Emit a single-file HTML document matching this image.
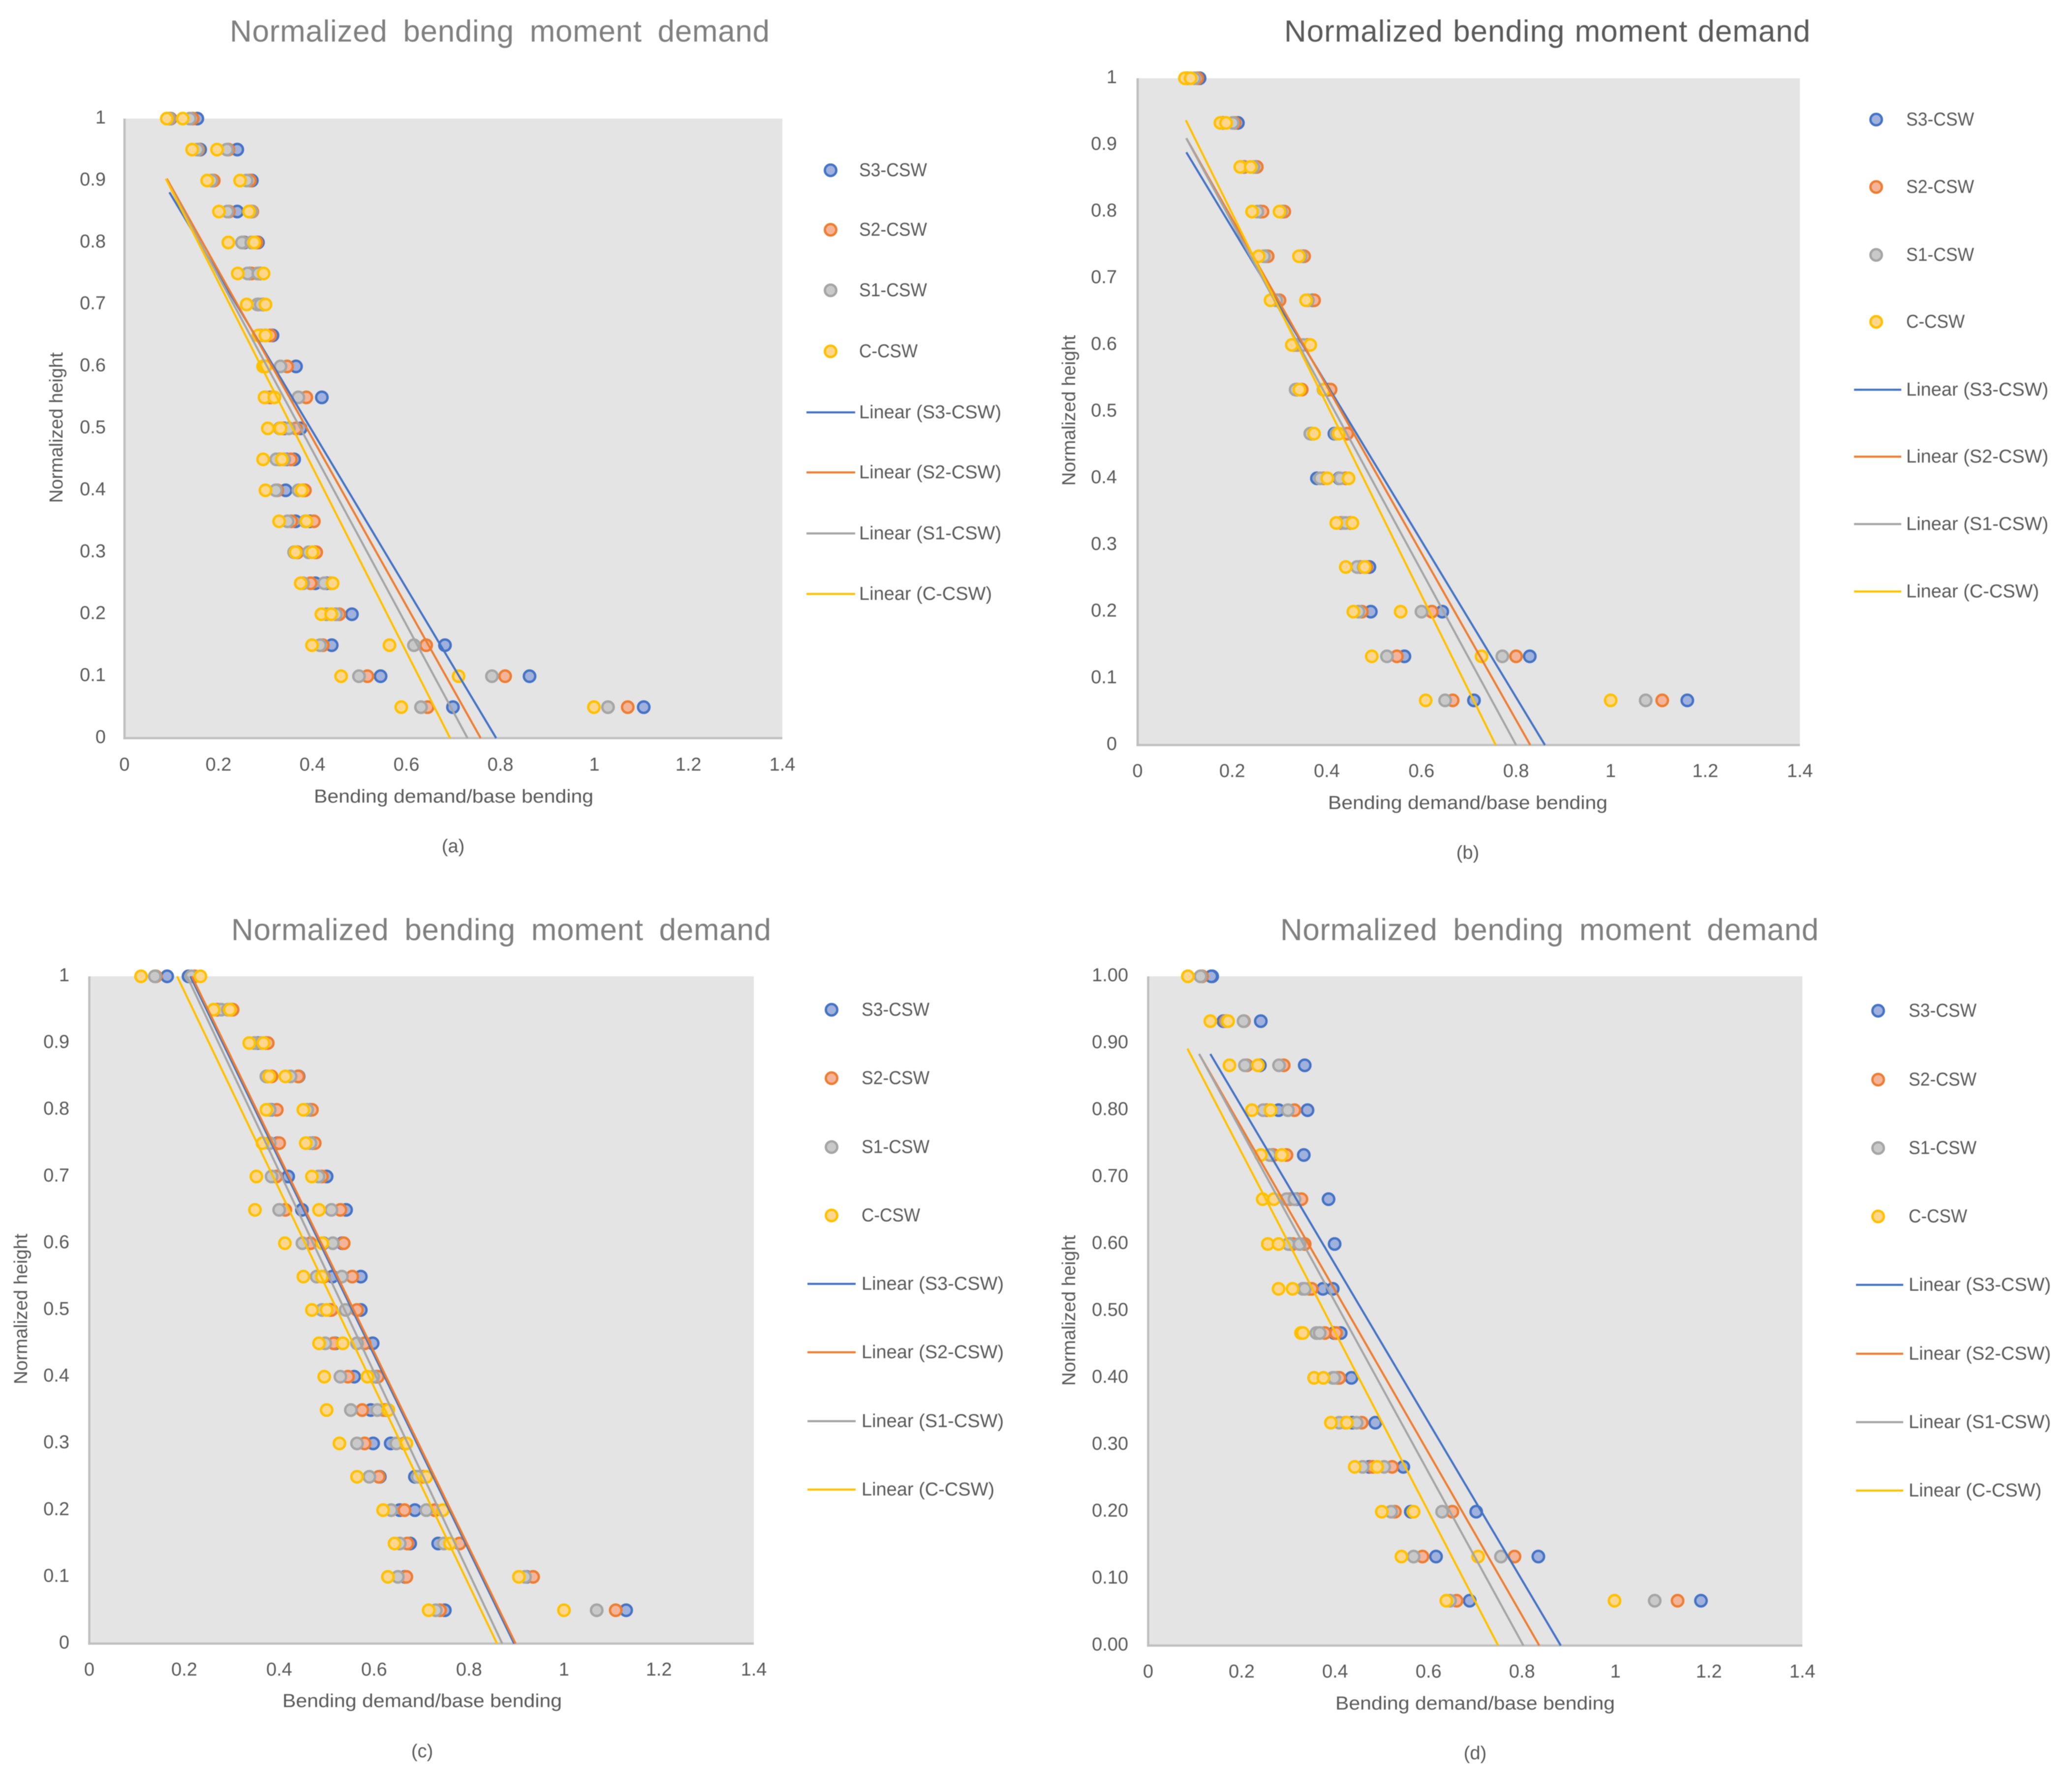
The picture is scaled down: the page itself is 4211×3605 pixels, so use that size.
<!DOCTYPE html>
<html lang="en">
<head>
<meta charset="utf-8">
<title>Normalized bending moment demand</title>
<style>
html,body{margin:0;padding:0;background:#fff;}
#figure{display:block;width:4211px;height:3605px;filter:blur(0.9px);}
text{font-family:"Liberation Sans",sans-serif;fill:#595959;}
</style>
</head>
<body>
<svg id="figure" xmlns="http://www.w3.org/2000/svg" width="4211" height="3605" viewBox="0 0 4211 3605">
<rect width="4211" height="3605" fill="#ffffff"></rect>
</svg>
<script>
// ---- shared labels ----
const seriesNames = ['S3-CSW','S2-CSW','S1-CSW','C-CSW'];
const xTickLabels = ['0','0.2','0.4','0.6','0.8','1','1.2','1.4'];
const xTickValues = [0,0.2,0.4,0.6,0.8,1,1.2,1.4];
const yTickValues = [0,0.1,0.2,0.3,0.4,0.5,0.6,0.7,0.8,0.9,1];
const yTickLabels = ['0','0.1','0.2','0.3','0.4','0.5','0.6','0.7','0.8','0.9','1'];
const yTickLabelsFixed = ['0.00','0.10','0.20','0.30','0.40','0.50','0.60','0.70','0.80','0.90','1.00'];

// ---- panel (a) ----
const aHeights = [1,0.95,0.9,0.85,0.8,0.75,0.7,0.65,0.6,0.55,0.5,0.45,0.4,0.35,0.3,0.25,0.2,0.15,0.1,0.05];
const aS3Low  = [.098,.161,.187,.24,.255,.266,.285,.30,.30,.31,.34,.345,.343,.364,.368,.406,.45,.441,.545,.699];
const aS3High = [.155,.24,.271,.268,.284,.288,.295,.315,.365,.42,.375,.361,.38,.395,.405,.43,.484,.682,.862,1.105];
const aS2Low  = [.097,.157,.19,.222,.252,.27,.283,.30,.30,.31,.335,.33,.325,.355,.368,.396,.44,.422,.517,.645];
const aS2High = [.145,.221,.267,.272,.281,.283,.295,.31,.346,.387,.365,.354,.384,.403,.408,.44,.457,.642,.81,1.071];
const aS1Low  = [.095,.155,.185,.219,.25,.262,.283,.29,.295,.30,.33,.323,.322,.347,.361,.38,.43,.416,.499,.631];
const aS1High = [.139,.218,.26,.27,.27,.285,.29,.30,.332,.37,.35,.34,.37,.385,.392,.425,.45,.616,.782,1.029];
const aCLow   = [.09,.144,.176,.201,.221,.241,.26,.285,.295,.298,.305,.295,.30,.329,.364,.375,.419,.399,.461,.589];
const aCHigh  = [.124,.197,.246,.265,.276,.296,.30,.30,.30,.319,.332,.335,.377,.387,.40,.443,.44,.564,.711,.999];
const aTrendTopX  = [.0956,.09,.09,.088];
const aTrendTopY  = [.881,.903,.90,.903];
const aTrendBaseX = [.791,.758,.73,.693];

// ---- panel (b) ----
const bHeights = [1,0.933,0.867,0.8,0.733,0.667,0.6,0.533,0.467,0.4,0.333,0.267,0.2,0.133,0.067];
const bS3Low  = [.105,.18,.225,.26,.27,.295,.33,.337,.367,.379,.43,.47,.493,.564,.711];
const bS3High = [.131,.212,.25,.308,.35,.37,.36,.404,.416,.426,.45,.49,.644,.829,1.162];
const bS2Low  = [.105,.18,.225,.264,.275,.30,.337,.347,.37,.393,.43,.47,.474,.548,.666];
const bS2High = [.126,.205,.252,.31,.352,.373,.36,.408,.443,.44,.45,.483,.622,.80,1.109];
const bS1Low  = [.105,.178,.22,.253,.267,.293,.333,.334,.365,.386,.435,.464,.467,.527,.65];
const bS1High = [.12,.201,.245,.303,.345,.36,.35,.393,.42,.428,.44,.478,.60,.771,1.074];
const bCLow   = [.10,.175,.217,.242,.256,.281,.326,.342,.373,.401,.42,.44,.456,.495,.609];
const bCHigh  = [.112,.187,.239,.30,.341,.356,.365,.394,.425,.446,.454,.48,.556,.727,1.0];
const bTrendTopX  = [.103,.103,.103,.102];
const bTrendTopY  = [.889,.91,.91,.937];
const bTrendBaseX = [.861,.83,.80,.757];

// ---- panel (c) ----
const cHeights = [1,0.95,0.9,0.85,0.8,0.75,0.7,0.65,0.6,0.55,0.5,0.45,0.4,0.35,0.3,0.25,0.2,0.15,0.1,0.05];
const cS3Low  = [.164,.27,.355,.376,.383,.397,.419,.448,.493,.512,.508,.518,.558,.593,.598,.612,.654,.676,.665,.749];
const cS3High = [.209,.298,.372,.441,.466,.47,.50,.541,.533,.572,.572,.597,.605,.626,.635,.686,.686,.735,.921,1.131];
const cS2Low  = [.14,.27,.348,.384,.395,.40,.394,.413,.466,.494,.51,.515,.545,.575,.58,.61,.664,.67,.668,.739];
const cS2High = [.222,.302,.376,.44,.469,.475,.49,.529,.536,.554,.564,.58,.608,.62,.664,.703,.728,.78,.935,1.109];
const cS1Low  = [.138,.278,.348,.373,.38,.38,.384,.40,.449,.479,.49,.497,.529,.551,.564,.59,.636,.654,.65,.73];
const cS1High = [.215,.292,.362,.424,.459,.466,.483,.51,.513,.532,.54,.564,.598,.607,.647,.692,.71,.747,.918,1.069];
const cCLow   = [.109,.262,.337,.379,.373,.365,.352,.349,.412,.451,.469,.484,.495,.50,.527,.564,.619,.643,.629,.715];
const cCHigh  = [.234,.296,.367,.413,.451,.456,.469,.484,.491,.49,.50,.534,.586,.63,.668,.71,.745,.76,.905,1.0];
const cTrendTopX  = [.213,.216,.206,.185];
const cTrendTopY  = [1,1,1,1];
const cTrendBaseX = [.895,.898,.87,.859];

// ---- panel (d) ----
const dHeights = [1,0.933,0.867,0.8,0.733,0.667,0.6,0.533,0.467,0.4,0.333,0.267,0.2,0.133,0.067];
const dS3Low  = [.137,.161,.239,.279,.265,.317,.303,.374,.398,.409,.437,.473,.562,.616,.688];
const dS3High = [.135,.241,.335,.341,.333,.386,.399,.395,.412,.435,.486,.546,.702,.835,1.183];
const dS2Low  = [.115,.166,.211,.253,.268,.303,.31,.345,.378,.405,.423,.48,.528,.587,.66];
const dS2High = [.115,.205,.29,.313,.296,.328,.335,.35,.402,.409,.457,.522,.651,.784,1.133];
const dS1Low  = [.112,.168,.207,.246,.26,.296,.30,.331,.36,.395,.409,.459,.52,.568,.646];
const dS1High = [.112,.204,.28,.299,.286,.313,.324,.335,.367,.398,.446,.505,.629,.755,1.084];
const dCLow   = [.085,.133,.174,.222,.241,.245,.256,.279,.327,.355,.391,.442,.50,.542,.638];
const dCHigh  = [.085,.171,.235,.262,.286,.269,.279,.309,.331,.375,.425,.49,.568,.706,.998];
const dTrendTopX  = [.133,.109,.109,.084];
const dTrendTopY  = [.884,.884,.884,.892];
const dTrendBaseX = [.883,.837,.803,.749];

// ---- styling and layout (not data) ----
const strokeColors = ['#4472c4','#ed7d31','#a5a5a5','#ffc000'];
const fillColors = ['#9fb1dc','#f4b499','#c9c9c9','#ffd68c'];
const svg = document.getElementById('figure');
const NS = 'http://www.w3.org/2000/svg';

const panels = [
 {id:'a',caption:'(a)',heights:aHeights,low:[aS3Low,aS2Low,aS1Low,aCLow],high:[aS3High,aS2High,aS1High,aCHigh],
  topX:aTrendTopX,topY:aTrendTopY,baseX:aTrendBaseX,yLabels:yTickLabels,
  left:253,right:1590,top:241,bottom:1500,titleX:467,titleW:1097,titleY:64,titleColor:'#7f7f7f',wordGap:14,
  yLabelRight:215,xLabelY:1554,xTitleX:922,xTitleY:1619,yTitleX:115,yTitleY:869,capX:921,capY:1720,
  markX:1688,textX:1746,lineX1:1639,lineX2:1738,rows:[346,467,590,714,838,960,1084,1207]},
 {id:'b',caption:'(b)',heights:bHeights,low:[bS3Low,bS2Low,bS1Low,bCLow],high:[bS3High,bS2High,bS1High,bCHigh],
  topX:bTrendTopX,topY:bTrendTopY,baseX:bTrendBaseX,yLabels:yTickLabels,
  left:2312,right:3658,top:159,bottom:1514,titleX:2610,titleW:1069,titleY:64,titleColor:'#595959',wordGap:2,
  yLabelRight:2270,xLabelY:1567,xTitleX:2983,xTitleY:1632,yTitleX:2173,yTitleY:834,capX:2983,capY:1733,
  markX:3813,textX:3874,lineX1:3768,lineX2:3864,rows:[243,380,518,654,792,928,1065,1202]},
 {id:'c',caption:'(c)',heights:cHeights,low:[cS3Low,cS2Low,cS1Low,cCLow],high:[cS3High,cS2High,cS1High,cCHigh],
  topX:cTrendTopX,topY:cTrendTopY,baseX:cTrendBaseX,yLabels:yTickLabels,
  left:181.5,right:1532,top:1984,bottom:3340,titleX:470,titleW:1097,titleY:1890,titleColor:'#7f7f7f',wordGap:14,
  yLabelRight:141,xLabelY:3393,xTitleX:858,xTitleY:3457,yTitleX:43,yTitleY:2660,capX:858,capY:3559,
  markX:1690,textX:1751,lineX1:1641,lineX2:1739,rows:[2052,2191,2331,2470,2609,2748,2888,3027]},
 {id:'d',caption:'(d)',heights:dHeights,low:[dS3Low,dS2Low,dS1Low,dCLow],high:[dS3High,dS2High,dS1High,dCHigh],
  topX:dTrendTopX,topY:dTrendTopY,baseX:dTrendBaseX,yLabels:yTickLabelsFixed,
  left:2333.5,right:3663,top:1984,bottom:3344,titleX:2602,titleW:1094,titleY:1890,titleColor:'#7f7f7f',wordGap:14,
  yLabelRight:2293,xLabelY:3397,xTitleX:2998,xTitleY:3462,yTitleX:2173,yTitleY:2663,capX:2998,capY:3563,
  markX:3817,textX:3879,lineX1:3772,lineX2:3868,rows:[2054,2194,2333,2472,2611,2751,2890,3029]}
];

function make(tag, attrs, parent, content){
  const el = document.createElementNS(NS, tag);
  for (const k in attrs) el.setAttribute(k, attrs[k]);
  if (content !== undefined) el.textContent = content;
  parent.appendChild(el);
  return el;
}
function label(parent, str, x, y, size, anchor, fitWidth, color, keepGlyphs, wordGap){
  const attrs = {x:x, y:y, 'font-size':size, 'text-anchor':anchor, 'dominant-baseline':'central'};
  if (fitWidth){ attrs.textLength = fitWidth; attrs.lengthAdjust = keepGlyphs ? 'spacing' : 'spacingAndGlyphs'; }
  let css = '';
  if (color) css += 'fill:' + color + ';';
  if (wordGap) css += 'word-spacing:' + wordGap + 'px;';
  if (css) attrs.style = css;
  return make('text', attrs, parent, str);
}

panels.forEach(function(p){
  const xScale = function(v){ return p.left + v / 1.4 * (p.right - p.left); };
  const yScale = function(v){ return p.bottom - v * (p.bottom - p.top); };

  const g = make('g', {}, svg);
  
  

  const title = label(g, 'Normalized bending moment demand', p.titleX, p.titleY, 62, 'start', p.titleW, p.titleColor, true, p.wordGap);
  
  

  const plot = make('rect', {x:p.left, y:p.top, width:p.right - p.left, height:p.bottom - p.top, fill:'#e4e4e4'}, g);
  
  

  const yAxis = make('line', {x1:p.left, x2:p.left, y1:p.top, y2:p.bottom + 2.3, stroke:'#bfbfbf', 'stroke-width':4.6}, g);
  
  

  const xAxis = make('line', {x1:p.left - 2.3, x2:p.right, y1:p.bottom, y2:p.bottom, stroke:'#bfbfbf', 'stroke-width':4.6}, g);
  
  

  xTickValues.forEach(function(v, i){
    const t = label(g, xTickLabels[i], xScale(v), p.xLabelY, 38, 'middle');
    
    
  });
  yTickValues.forEach(function(v, i){
    const t = label(g, p.yLabels[i], p.yLabelRight, yScale(v) - 2, 38, 'end');
    
    
  });

  const xTitle = label(g, 'Bending demand/base bending', p.xTitleX, p.xTitleY, 38, 'middle', 568);
  
  

  const yTitle = label(g, 'Normalized height', 0, 0, 38, 'middle', 306);
  yTitle.setAttribute('transform', 'translate(' + p.yTitleX + ',' + p.yTitleY + ') rotate(-90)');
  
  

  const cap = label(g, p.caption, p.capX, p.capY, 38, 'middle');
  
  

  // scatter points
  seriesNames.forEach(function(name, s){
    const sg = make('g', {}, g);
    
    
    [p.low[s], p.high[s]].forEach(function(values){
      values.forEach(function(v, i){
        const c = make('circle', {cx:xScale(v), cy:yScale(p.heights[i]), r:11.6,
          fill:fillColors[s], stroke:strokeColors[s], 'stroke-width':4.8}, sg);
        
        
      });
    });
  });

  // trendlines sit above the markers
  seriesNames.forEach(function(name, s){
    const ln = make('line', {x1:xScale(p.topX[s]), y1:yScale(p.topY[s]), x2:xScale(p.baseX[s]), y2:yScale(0),
      stroke:strokeColors[s], 'stroke-width':4.2}, g);
    
    
  });

  // legend
  seriesNames.forEach(function(name, s){
    const m = make('circle', {cx:p.markX, cy:p.rows[s], r:11.6, fill:fillColors[s], stroke:strokeColors[s], 'stroke-width':4.8}, g);
    
    
    const t = label(g, name, p.textX, p.rows[s], 38, 'start', name === 'C-CSW' ? 119 : 138);
    
    
  });
  seriesNames.forEach(function(name, s){
    const row = p.rows[s + 4];
    const l = make('line', {x1:p.lineX1, x2:p.lineX2, y1:row, y2:row, stroke:strokeColors[s], 'stroke-width':4.2}, g);
    
    
    const t = label(g, 'Linear (' + name + ')', p.textX, row, 38, 'start', name === 'C-CSW' ? 270 : 289);
    
    
  });
});
</script>
</body>
</html>
